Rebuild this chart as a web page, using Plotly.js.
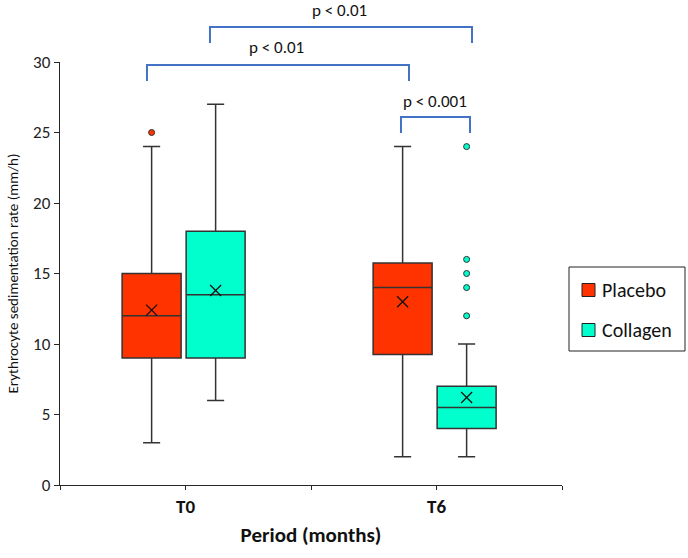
<!DOCTYPE html>
<html>
<head>
<meta charset="utf-8">
<script src="https://cdn.plot.ly/plotly-3.0.1.min.js"></script>
<style>html,body{margin:0;padding:0;background:#fff;}#chart{width:688px;height:558px;}</style>
</head>
<body>
<div id="chart"></div>
<script>
// ---- data ----
const periods = ['T0', 'T6'];
const groupNames = ['Placebo', 'Collagen'];
const placeboQ1 = [9, 9.25];
const placeboMedian = [12, 14];
const placeboQ3 = [15, 15.75];
const placeboLow = [3, 2];
const placeboHigh = [24, 24];
const placeboMean = [12.4, 13.0];
const placeboOutliers = [[25], []];
const collagenQ1 = [9, 4];
const collagenMedian = [13.5, 5.5];
const collagenQ3 = [18, 7];
const collagenLow = [6, 2];
const collagenHigh = [27, 10];
const collagenMean = [13.8, 6.2];
const collagenOutliers = [[], [24, 16, 15, 14, 12]];
const pLabels = ['p < 0.01', 'p < 0.01', 'p < 0.001'];

// ---- styling / layout helpers ----
const FONT = 'Carlito, Calibri, Lato, sans-serif';
const colors = {Placebo: '#FF3300', Collagen: '#00FFCC'};
const periodPos = [1, 3];
const offsets = {Placebo: -0.27, Collagen: 0.24};
const XR = [0, 4], YR = [0, 30];
const W = 688, H = 558, M = {l: 60, r: 126, t: 62, b: 73};
const plotW = W - M.l - M.r, plotH = H - M.t - M.b;

const stats = {
  Placebo: {q1: placeboQ1, med: placeboMedian, q3: placeboQ3, lo: placeboLow, hi: placeboHigh, mean: placeboMean, out: placeboOutliers},
  Collagen: {q1: collagenQ1, med: collagenMedian, q3: collagenQ3, lo: collagenLow, hi: collagenHigh, mean: collagenMean, out: collagenOutliers}
};

const traces = [];
groupNames.forEach(g => {
  const s = stats[g];
  const xs = periodPos.map(p => p + offsets[g]);
  traces.push({
    type: 'box', name: g, x: xs, q1: s.q1, median: s.med, q3: s.q3,
    lowerfence: s.lo, upperfence: s.hi, width: 0.47, whiskerwidth: 0.29,
    fillcolor: colors[g], line: {color: '#333333', width: 1.5},
    showlegend: false, hoverinfo: 'skip', orientation: 'v'
  });
  traces.push({
    type: 'scatter', mode: 'markers', x: xs, y: s.mean, showlegend: false,
    marker: {symbol: 'x-thin-open', size: 11, color: '#111', line: {color: '#111', width: 1.3}},
    hoverinfo: 'skip'
  });
  const ox = [], oy = [];
  s.out.forEach((arr, i) => arr.forEach(v => { ox.push(xs[i]); oy.push(v); }));
  traces.push({
    type: 'scatter', mode: 'markers', x: ox, y: oy, showlegend: false,
    marker: {symbol: 'circle', size: 6, color: colors[g], line: {color: '#333', width: 1}},
    hoverinfo: 'skip'
  });
});

// brackets: [xLeft, xRight, yTop, yBottom, labelX, labelY]
const brackets = [
  [1.195, 3.283, 32.48, 31.35, 2.231, 33.65],
  [0.693, 2.781, 29.79, 28.65, 1.729, 31.06],
  [2.717, 3.267, 26.10, 24.96, 2.988, 27.23]
];
const px = x => (x - XR[0]) / (XR[1] - XR[0]);
const py = y => (y - YR[0]) / (YR[1] - YR[0]);
const shapes = brackets.map(b => ({
  type: 'path', xref: 'paper', yref: 'paper',
  path: `M ${px(b[0])} ${py(b[3])} L ${px(b[0])} ${py(b[2])} L ${px(b[1])} ${py(b[2])} L ${px(b[1])} ${py(b[3])}`,
  line: {color: '#4472C4', width: 2}
}));
const annotations = brackets.map((b, i) => ({
  x: px(b[4]), y: py(b[5]), xref: 'paper', yref: 'paper', xanchor: 'center', yanchor: 'middle',
  text: pLabels[i], showarrow: false, borderpad: 0,
  font: {family: FONT, size: 17, color: '#111'}
}));

// custom legend (pixel positions -> paper)
const ppx = p => (p - M.l) / plotW;
const ppy = p => (H - M.b - p) / plotH;
shapes.push({type: 'rect', xref: 'paper', yref: 'paper',
  x0: ppx(569), x1: ppx(685), y0: ppy(351), y1: ppy(267),
  line: {color: '#222', width: 1}, fillcolor: '#fff'});
groupNames.forEach((g, i) => {
  const cy = 290 + i * 40;
  shapes.push({type: 'rect', xref: 'paper', yref: 'paper',
    x0: ppx(582), x1: ppx(595), y0: ppy(cy + 6.5), y1: ppy(cy - 6.5),
    line: {color: '#222', width: 1}, fillcolor: colors[g]});
  annotations.push({x: ppx(600), y: ppy(cy), xref: 'paper', yref: 'paper',
    xanchor: 'left', yanchor: 'middle', text: g, showarrow: false,
    font: {family: FONT, size: 20, color: '#111'}});
});

const layout = {
  width: W, height: H,
  margin: M,
  paper_bgcolor: '#fff', plot_bgcolor: '#fff',
  font: {family: FONT, color: '#222'},
  showlegend: false,
  xaxis: {
    range: XR, tickvals: [0, 1, 2, 3, 4], ticktext: ['', '<b>T0</b>', '', '<b>T6</b>', ''],
    showline: true, linecolor: '#262626', linewidth: 1.3, ticks: 'outside', ticklen: 4,
    tickcolor: '#262626', showgrid: false, zeroline: false,
    tickfont: {family: FONT, size: 19, color: '#111'},
    title: {text: '<b>Period (months)</b>', font: {family: FONT, size: 21, color: '#111'}, standoff: 10}
  },
  yaxis: {
    range: YR, dtick: 5, showline: true, linecolor: '#262626', linewidth: 1.3,
    ticks: 'outside', ticklen: 5, tickcolor: '#262626', showgrid: false, zeroline: false,
    tickfont: {family: FONT, size: 17, color: '#222'},
    title: {text: 'Erythrocyte sedimentation rate (mm/h)', font: {family: FONT, size: 15, color: '#111'}, standoff: 10}
  },
  shapes: shapes,
  annotations: annotations
};

Plotly.newPlot('chart', traces, layout, {displayModeBar: false, staticPlot: true});
</script>
</body>
</html>
